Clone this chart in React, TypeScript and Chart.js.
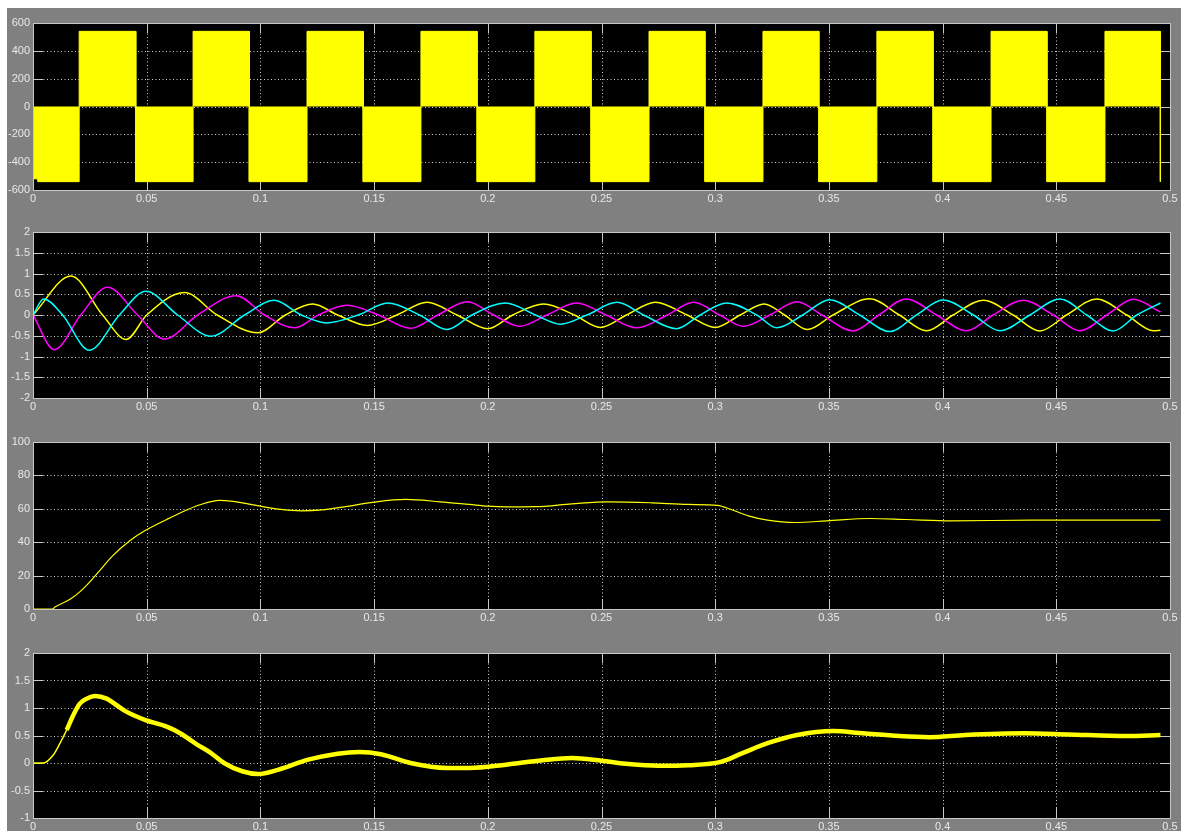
import React, { useEffect, useRef } from 'react';
import { Chart, registerables } from 'chart.js';

Chart.register(...registerables);

// ---- time axis (shared by all four scopes) ----
const timeTicks = [0, 0.05, 0.1, 0.15, 0.2, 0.25, 0.3, 0.35, 0.4, 0.45, 0.5];
const timeTickLabels = ['0', '0.05', '0.1', '0.15', '0.2', '0.25', '0.3', '0.35', '0.4', '0.45', '0.5'];

// ---- scope 1: inverter line voltage (switching envelope) ----
const vabSwitchTimes = [
  0, 0.0022, 0.0203, 0.0452, 0.0704, 0.0951, 0.1205, 0.1452, 0.1706, 0.1953, 0.2207,
  0.2454, 0.2709, 0.2955, 0.321, 0.3456, 0.3711, 0.3958, 0.4213, 0.4459, 0.4714, 0.4957,
];
const vabLevels = [
  -520, -540, 540, -540, 540, -540, 540, -540, 540, -540, 540,
  -540, 540, -540, 540, -540, 540, -540, 540, -540, 540, -540,
];
const vabEndTime = 0.4958;
const vabTicks = [-600, -400, -200, 0, 200, 400, 600];

// ---- scope 2: stator phase currents ----
const iaPoints: [number, number][] = [
  [0, 0], [0.0167, 0.94], [0.0306, 0], [0.041, -0.59], [0.05, 0], [0.0666, 0.54], [0.081, 0],
  [0.0988, -0.43], [0.111, 0], [0.123, 0.265], [0.134, 0], [0.147, -0.25], [0.16, 0],
  [0.1733, 0.31], [0.1865, 0], [0.2, -0.33], [0.211, 0], [0.2246, 0.265], [0.238, 0],
  [0.2495, -0.3], [0.261, 0], [0.2737, 0.31], [0.2876, 0], [0.3, -0.3], [0.311, 0],
  [0.3215, 0.265], [0.3305, 0], [0.3405, -0.35], [0.3518, 0], [0.368, 0.39], [0.381, 0],
  [0.393, -0.38], [0.4046, 0], [0.418, 0.353], [0.431, 0], [0.4428, -0.385], [0.4545, 0],
  [0.4678, 0.385], [0.481, 0], [0.4927, -0.38], [0.4958, -0.365],
];
const ibPoints: [number, number][] = [
  [0, 0], [0.0094, -0.835], [0.021, 0], [0.0328, 0.667], [0.046, 0], [0.0578, -0.58],
  [0.0724, 0], [0.0893, 0.466], [0.1018, 0], [0.115, -0.31], [0.1255, 0], [0.138, 0.233],
  [0.152, 0], [0.166, -0.32], [0.178, 0], [0.191, 0.32], [0.2026, 0], [0.214, -0.27],
  [0.226, 0], [0.239, 0.29], [0.252, 0], [0.2656, -0.31], [0.279, 0], [0.2905, 0.305],
  [0.302, 0], [0.3124, -0.27], [0.324, 0], [0.336, 0.32], [0.347, 0], [0.3606, -0.385],
  [0.372, 0], [0.384, 0.385], [0.3973, 0], [0.4105, -0.38], [0.4222, 0], [0.4355, 0.353],
  [0.4487, 0], [0.4604, -0.38], [0.4722, 0], [0.484, 0.377], [0.4958, 0.07],
];
const icPoints: [number, number][] = [
  [0, 0], [0.0047, 0.385], [0.013, 0], [0.0248, -0.85], [0.038, 0], [0.0497, 0.57],
  [0.0636, 0], [0.0783, -0.51], [0.093, 0], [0.106, 0.353], [0.118, 0], [0.129, -0.19],
  [0.143, 0], [0.156, 0.29], [0.17, 0], [0.182, -0.35], [0.193, 0], [0.2078, 0.29],
  [0.221, 0], [0.232, -0.22], [0.2436, 0], [0.2568, 0.305], [0.2685, 0], [0.283, -0.33],
  [0.2934, 0], [0.305, 0.29], [0.3183, 0], [0.327, -0.31], [0.3385, 0], [0.3503, 0.37],
  [0.3635, 0], [0.3767, -0.4], [0.3885, 0], [0.4002, 0.36], [0.4135, 0], [0.4252, -0.38],
  [0.4384, 0], [0.4516, 0.385], [0.4634, 0], [0.4751, -0.385], [0.4854, 0], [0.4958, 0.29],
];
const currentTicks = [-2, -1.5, -1, -0.5, 0, 0.5, 1, 1.5, 2];

// ---- scope 3: rotor speed ----
const speedPoints: [number, number][] = [
  [0, 0], [0.0085, 0], [0.0097, 1.2], [0.0163, 5.8], [0.0207, 10.4], [0.0251, 16.4],
  [0.0295, 23.3], [0.035, 31.8], [0.0427, 41], [0.0495, 47.1], [0.0588, 53.6],
  [0.0676, 59.3], [0.0734, 62.4], [0.082, 65], [0.087, 64.6], [0.095, 62.8], [0.1, 61.6],
  [0.108, 59.8], [0.118, 58.8], [0.127, 59.3], [0.137, 61.2], [0.15, 64], [0.164, 65.6],
  [0.179, 64.2], [0.192, 62.6], [0.2, 61.6], [0.208, 61.2], [0.221, 61.3], [0.237, 63],
  [0.253, 64.2], [0.272, 63.6], [0.288, 62.6], [0.301, 62], [0.307, 59.6], [0.315, 55.6],
  [0.323, 53.2], [0.335, 51.8], [0.349, 52.8], [0.368, 54.2], [0.384, 53.6], [0.404, 52.8],
  [0.439, 53.2], [0.4958, 53.2],
];
const speedTicks = [0, 20, 40, 60, 80, 100];

// ---- scope 4: electromagnetic torque ----
const torquePoints: [number, number][] = [
  [0, 0], [0.0045, 0], [0.009, 0.15], [0.0119, 0.36], [0.0148, 0.6], [0.0177, 0.87],
  [0.0206, 1.08], [0.0236, 1.17], [0.0275, 1.22], [0.0324, 1.17], [0.0368, 1.05],
  [0.0412, 0.93], [0.0495, 0.78], [0.0588, 0.66], [0.0647, 0.54], [0.072, 0.34],
  [0.078, 0.19], [0.084, 0], [0.092, -0.15], [0.099, -0.2], [0.108, -0.12], [0.121, 0.06],
  [0.134, 0.17], [0.1435, 0.2], [0.153, 0.16], [0.166, 0], [0.182, -0.09], [0.192, -0.09],
  [0.208, -0.03], [0.224, 0.05], [0.237, 0.09], [0.25, 0.04], [0.262, -0.02], [0.275, -0.05],
  [0.288, -0.04], [0.3025, 0.02], [0.312, 0.18], [0.323, 0.36], [0.336, 0.51], [0.352, 0.58],
  [0.365, 0.54], [0.381, 0.49], [0.394, 0.47], [0.41, 0.51], [0.436, 0.54], [0.455, 0.52],
  [0.481, 0.49], [0.4958, 0.51],
];
const torqueTicks = [-1, -0.5, 0, 0.5, 1, 1.5, 2];

// ---- look of the scope window ----
const FIGURE_BG = '#808080';
const AXES_BG = '#000000';
const FRAME_COLOR = '#c8c8c8';
const TICK_COLOR = '#c8c8c8';
const GRID_COLOR = '#d0d0d0';
const LABEL_COLOR = '#e8e8e8';
const YELLOW = '#ffff00';
const MAGENTA = '#ff00ff';
const CYAN = '#00ffff';

const FIG_LEFT = 7;
const FIG_TOP = 8;
const FIG_W = 1174;
const FIG_H = 823;
const AXIS_LEFT = 26;
const AXIS_RIGHT = 1163;
const PAD_TOP = 12;
const X_AXIS_H = 22;
const TICK_LEN = 10;

const toXY = (pts: [number, number][]) => pts.map(([x, y]) => ({ x, y }));

function squareWave(times: number[], levels: number[], end: number) {
  const out: { x: number; y: number }[] = [];
  for (let i = 0; i < times.length; i++) {
    const next = i + 1 < times.length ? times[i + 1] : end;
    out.push({ x: times[i], y: levels[i] });
    out.push({ x: next, y: levels[i] });
  }
  return out;
}

const scopeAxesPlugin = {
  id: 'scopeAxes',
  beforeDatasetsDraw(chart: any) {
    const { ctx, chartArea: a, scales } = chart;
    const xs = scales.x;
    const ys = scales.y;
    ctx.save();
    ctx.fillStyle = AXES_BG;
    ctx.fillRect(a.left, a.top, a.right - a.left + 1, a.bottom - a.top + 1);

    ctx.lineWidth = 1;
    ctx.strokeStyle = GRID_COLOR;
    ctx.setLineDash([1, 2.5]);
    xs.ticks.forEach((t: any, i: number) => {
      if (i === 0 || i === xs.ticks.length - 1) return;
      const px = Math.round(xs.getPixelForValue(t.value)) + 0.5;
      ctx.beginPath();
      ctx.moveTo(px, a.top);
      ctx.lineTo(px, a.bottom);
      ctx.stroke();
    });
    ys.ticks.forEach((t: any, i: number) => {
      if (i === 0 || i === ys.ticks.length - 1) return;
      const py = Math.round(ys.getPixelForValue(t.value)) + 0.5;
      ctx.beginPath();
      ctx.moveTo(a.left, py);
      ctx.lineTo(a.right, py);
      ctx.stroke();
    });

    ctx.setLineDash([]);
    ctx.strokeStyle = TICK_COLOR;
    xs.ticks.forEach((t: any) => {
      const px = Math.round(xs.getPixelForValue(t.value)) + 0.5;
      ctx.beginPath();
      ctx.moveTo(px, a.top);
      ctx.lineTo(px, a.top + TICK_LEN);
      ctx.moveTo(px, a.bottom);
      ctx.lineTo(px, a.bottom - TICK_LEN);
      ctx.stroke();
    });
    ys.ticks.forEach((t: any) => {
      const py = Math.round(ys.getPixelForValue(t.value)) + 0.5;
      ctx.beginPath();
      ctx.moveTo(a.left, py);
      ctx.lineTo(a.left + TICK_LEN, py);
      ctx.moveTo(a.right, py);
      ctx.lineTo(a.right - TICK_LEN, py);
      ctx.stroke();
    });
    ctx.restore();
  },
  afterDatasetsDraw(chart: any) {
    const { ctx, chartArea: a } = chart;
    ctx.save();
    ctx.strokeStyle = FRAME_COLOR;
    ctx.lineWidth = 1;
    ctx.strokeRect(a.left + 0.5, a.top + 0.5, a.right - a.left, a.bottom - a.top);
    ctx.restore();
  },
};

const tickFont = { family: '"Liberation Sans", Arial, sans-serif', size: 11 };

function makeConfig(datasets: any[], yTicks: number[]) {
  return {
    type: 'line',
    data: { datasets },
    plugins: [scopeAxesPlugin],
    options: {
      responsive: false,
      animation: false,
      events: [],
      layout: { padding: { top: PAD_TOP, right: FIG_W - AXIS_RIGHT, left: 0, bottom: 0 } },
      plugins: { legend: { display: false }, tooltip: { enabled: false } },
      elements: { point: { radius: 0 } },
      scales: {
        x: {
          type: 'linear',
          min: timeTicks[0],
          max: timeTicks[timeTicks.length - 1],
          grid: { display: false, drawTicks: false },
          border: { display: false },
          afterBuildTicks: (s: any) => {
            s.ticks = timeTicks.map((v) => ({ value: v }));
          },
          afterFit: (s: any) => {
            s.height = X_AXIS_H;
          },
          ticks: {
            autoSkip: false,
            maxRotation: 0,
            padding: 2,
            color: LABEL_COLOR,
            font: tickFont,
            callback: (_v: any, i: number) => timeTickLabels[i],
          },
        },
        y: {
          type: 'linear',
          min: yTicks[0],
          max: yTicks[yTicks.length - 1],
          grid: { display: false, drawTicks: false },
          border: { display: false },
          afterBuildTicks: (s: any) => {
            s.ticks = yTicks.map((v) => ({ value: v }));
          },
          afterFit: (s: any) => {
            s.width = AXIS_LEFT;
          },
          ticks: {
            autoSkip: false,
            padding: 3,
            color: LABEL_COLOR,
            font: tickFont,
            callback: (v: any) => String(v),
          },
        },
      },
    },
  };
}

function ScopePanel({ top, plotHeight, datasets, yTicks }: any) {
  const ref = useRef<HTMLCanvasElement | null>(null);
  const h = PAD_TOP + plotHeight + X_AXIS_H;
  useEffect(() => {
    if (!ref.current) return;
    const chart = new Chart(ref.current, makeConfig(datasets, yTicks) as any);
    return () => chart.destroy();
  }, []);
  return (
    <canvas
      ref={ref}
      width={FIG_W}
      height={h}
      style={{ position: 'absolute', left: 0, top: top - PAD_TOP, width: FIG_W, height: h, display: 'block' }}
    />
  );
}

export default function App() {
  const voltage = [
    {
      data: squareWave(vabSwitchTimes, vabLevels, vabEndTime),
      borderColor: YELLOW,
      backgroundColor: YELLOW,
      borderWidth: 1,
      fill: 'origin',
      tension: 0,
    },
  ];
  const currents = [
    { data: toXY(icPoints), borderColor: CYAN, borderWidth: 1.5, cubicInterpolationMode: 'monotone', fill: false },
    { data: toXY(ibPoints), borderColor: MAGENTA, borderWidth: 1.5, cubicInterpolationMode: 'monotone', fill: false },
    { data: toXY(iaPoints), borderColor: YELLOW, borderWidth: 1.5, cubicInterpolationMode: 'monotone', fill: false },
  ];
  const speed = [
    { data: toXY(speedPoints), borderColor: YELLOW, borderWidth: 1.2, cubicInterpolationMode: 'monotone', fill: false },
  ];
  const torque = [
    {
      data: toXY(torquePoints),
      borderColor: YELLOW,
      borderWidth: 4.5,
      cubicInterpolationMode: 'monotone',
      fill: false,
      segment: { borderWidth: (c: any) => (c.p0.parsed.x < 0.014 ? 1.5 : 4.5) },
    },
  ];

  return (
    <div
      style={{
        position: 'absolute',
        left: FIG_LEFT,
        top: FIG_TOP,
        width: FIG_W,
        height: FIG_H,
        background: FIGURE_BG,
        overflow: 'hidden',
      }}
    >
      <ScopePanel top={15} plotHeight={167} datasets={voltage} yTicks={vabTicks} />
      <ScopePanel top={224} plotHeight={166} datasets={currents} yTicks={currentTicks} />
      <ScopePanel top={434} plotHeight={167} datasets={speed} yTicks={speedTicks} />
      <ScopePanel top={645} plotHeight={165} datasets={torque} yTicks={torqueTicks} />
    </div>
  );
}
